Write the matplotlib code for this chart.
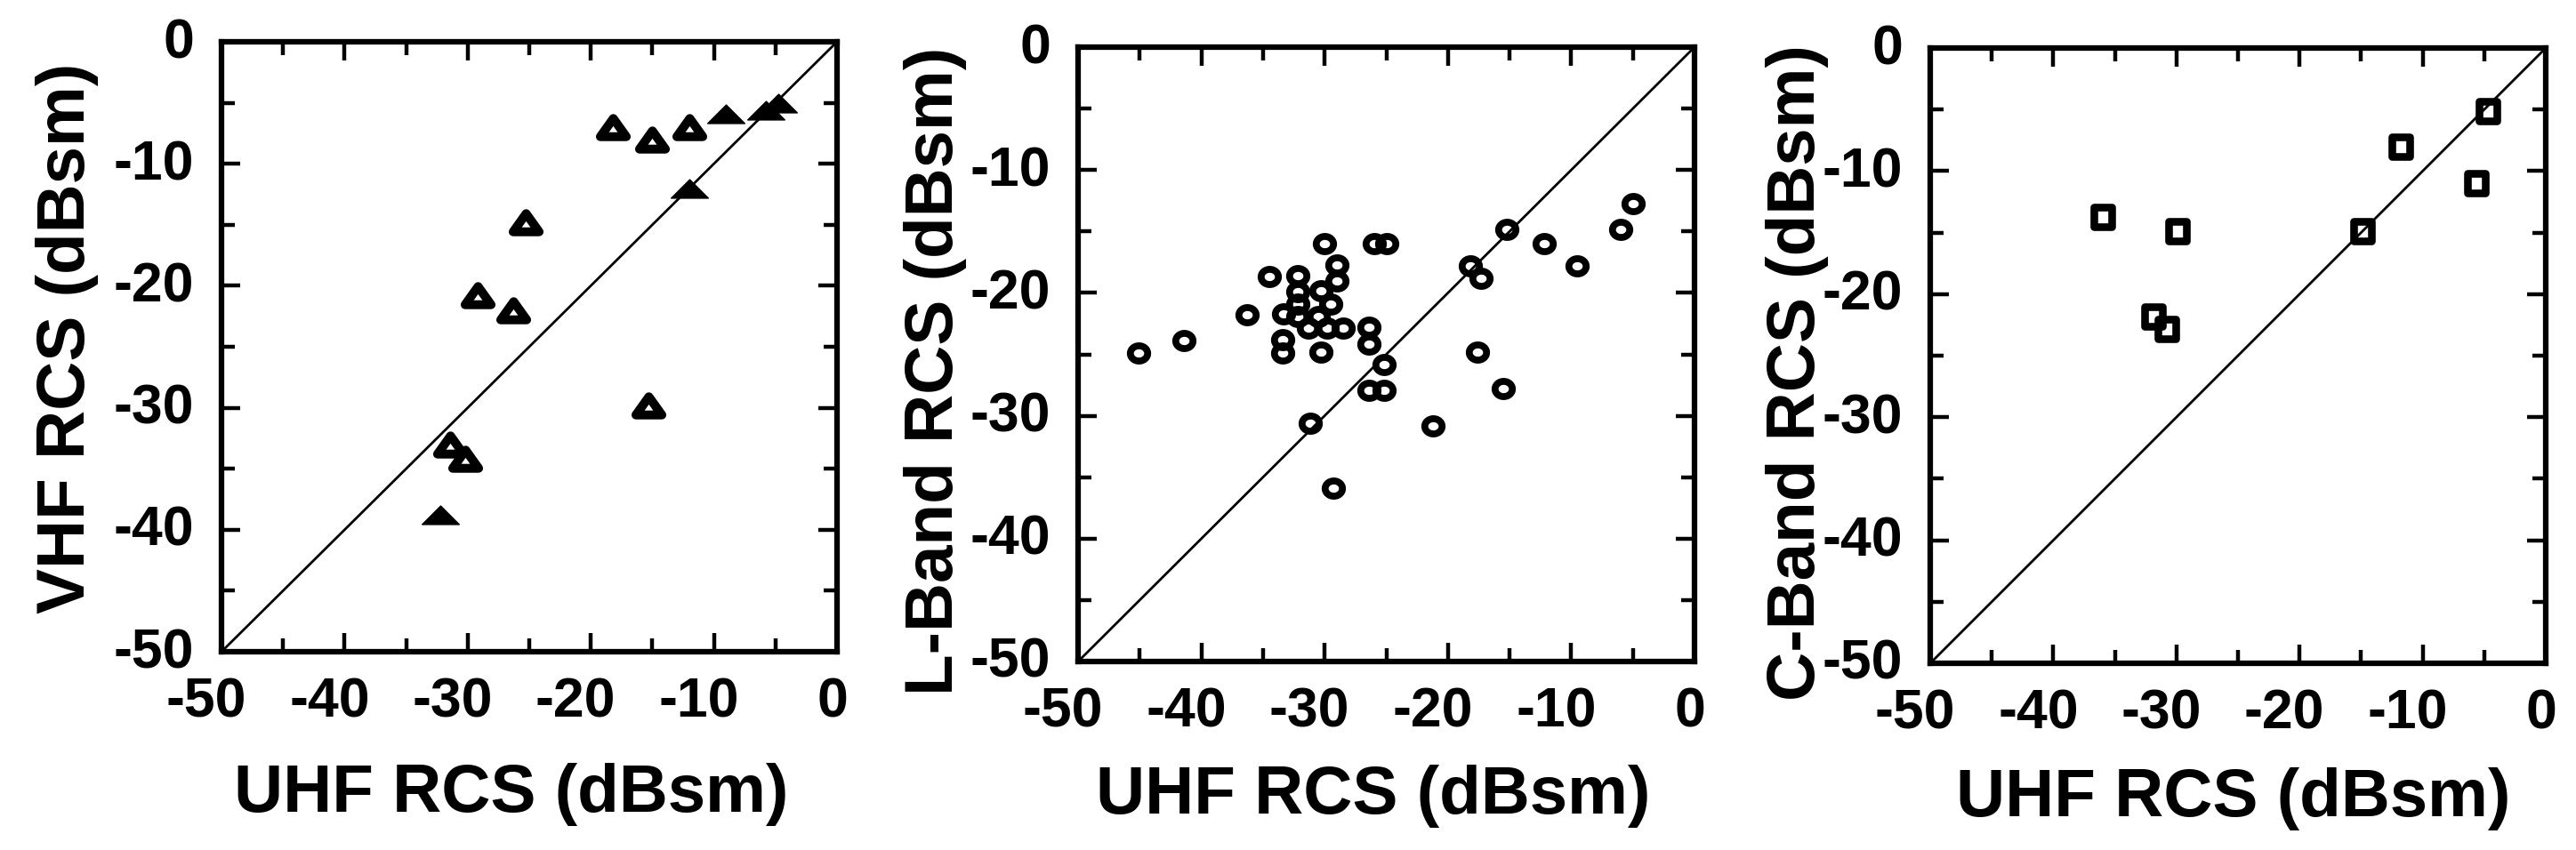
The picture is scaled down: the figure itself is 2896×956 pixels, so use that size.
import numpy as np
import matplotlib
matplotlib.use("Agg")
import matplotlib.pyplot as plt
from matplotlib.path import Path
from matplotlib.markers import MarkerStyle
from matplotlib.ticker import MultipleLocator
from matplotlib.transforms import ScaledTranslation

# ---------------- data ----------------
# Panel 1: VHF vs UHF (open and filled triangles)
vhf_open_uhf = [-18.2, -15.0, -12.0, -25.3, -29.2, -26.3, -15.3, -31.4, -30.2]
vhf_open_vhf = [-7.0, -8.0, -7.0, -14.8, -20.8, -22.0, -29.8, -33.0, -34.2]
vhf_filled_uhf = [-9.0, -5.8, -4.8, -12.0, -32.2]
vhf_filled_vhf = [-5.9, -5.6, -5.0, -12.0, -38.8]

# Panel 2: L-Band vs UHF (circles)
lband_uhf = [-45.1, -41.4, -36.3, -34.5,
             -30.0, -26.0, -25.0,
             -29.0, -29.0,
             -32.2, -32.2, -30.3, -32.2, -29.5,
             -33.3, -32.2, -30.5,
             -31.3, -29.8, -28.5,
             -33.4, -33.4, -30.3,
             -26.4, -26.4, -25.2,
             -26.4, -25.2,
             -31.2, -29.3, -21.2,
             -17.6, -15.5,
             -18.2, -17.3, -15.2,
             -12.2, -9.5, -6.0, -5.0]
lband_l = [-24.9, -23.9, -21.8, -18.7,
           -16.0, -16.0, -16.0,
           -17.7, -19.0,
           -18.6, -19.9, -19.8, -20.9, -20.9,
           -21.7, -21.9, -21.9,
           -22.9, -22.9, -22.9,
           -23.8, -24.9, -24.8,
           -22.8, -24.2, -25.8,
           -27.9, -27.9,
           -30.6, -35.9, -30.8,
           -24.8, -27.8,
           -17.8, -18.8, -14.8,
           -16.0, -17.8, -14.8, -12.7]

# Panel 3: C-Band vs UHF (squares)
cband_uhf = [-4.7, -11.8, -5.6, -36.0, -29.9, -14.9, -31.9, -30.8]
cband_c = [-5.1, -8.0, -11.0, -13.7, -14.9, -14.9, -21.8, -22.8]

# equality line and axis settings
diag = [-50, 0]
axis_min, axis_max = -50, 0
major_step, minor_step = 10, 5
xlabel_text = "UHF RCS (dBsm)"
ylabels = ["VHF RCS (dBsm)", "L-Band RCS (dBsm)", "C-Band RCS (dBsm)"]

# ---------------- style ----------------
plt.rcParams["font.family"] = ["Liberation Sans", "DejaVu Sans"]
plt.rcParams["font.weight"] = "bold"
plt.rcParams["axes.unicode_minus"] = False

W, H = 2896, 956
fig = plt.figure(figsize=(W / 100, H / 100), dpi=100)

def frac(left, right, top, bottom):
    return [left / W, 1 - bottom / H, (right - left) / W, (bottom - top) / H]

rects = [frac(249, 941, 47, 733), frac(1212, 1905, 53, 744), frac(2170, 2862, 54, 746)]
axes = [fig.add_axes(r) for r in rects]

# marker shapes
open_tri = MarkerStyle(Path([(-1, -0.7), (1, -0.7), (0, 0.7), (-1, -0.7)], closed=True), joinstyle="round")
flat_tri = MarkerStyle(Path([(-1, -0.5), (1, -0.5), (0, 0.5), (-1, -0.5)], closed=True))
th = np.linspace(0, 2 * np.pi, 61)
ring = MarkerStyle(Path(np.column_stack([np.cos(th), 0.88 * np.sin(th)]), closed=True))
rect_m = MarkerStyle(Path([(-0.85, -1), (0.85, -1), (0.85, 1), (-0.85, 1), (-0.85, -1)], closed=True))

for ax in axes:
    ax.plot(diag, diag, color="black", lw=2.0, zorder=1)

axes[0].plot(vhf_open_uhf, vhf_open_vhf, linestyle="none", marker=open_tri, ms=21,
             mfc="white", mec="black", mew=7.2, zorder=3)
axes[0].plot(vhf_filled_uhf, vhf_filled_vhf, linestyle="none", marker=flat_tri, ms=30,
             mfc="black", mec="black", mew=1.0, zorder=3)
axes[1].plot(lband_uhf, lband_l, linestyle="none", marker=ring, ms=14,
             mfc="none", mec="black", mew=5.6, zorder=3)
axes[2].plot(cband_uhf, cband_c, linestyle="none", marker=rect_m, ms=16.5,
             mfc="none", mec="black", mew=6.2, zorder=3)

for ax, yl in zip(axes, ylabels):
    ax.set_xlim(axis_min, axis_max)
    ax.set_ylim(axis_min, axis_max)
    ax.xaxis.set_major_locator(MultipleLocator(major_step))
    ax.yaxis.set_major_locator(MultipleLocator(major_step))
    ax.xaxis.set_minor_locator(MultipleLocator(minor_step))
    ax.yaxis.set_minor_locator(MultipleLocator(minor_step))
    ax.tick_params(which="both", direction="in", top=True, right=True, width=3.2, color="black")
    ax.tick_params(which="major", length=15)
    ax.tick_params(which="minor", length=11)
    ax.tick_params(axis="x", which="major", labelsize=45, pad=20)
    ax.tick_params(axis="y", which="major", labelsize=45, pad=22)
    for sp in ax.spines.values():
        sp.set_linewidth(4.5)
    for lab in ax.get_xticklabels():
        dx = -0.17 if lab.get_text().startswith("-") else -0.05
        lab.set_transform(lab.get_transform() + ScaledTranslation(dx, 0, fig.dpi_scale_trans))
        lab.set_fontweight("bold")
    for lab in ax.get_yticklabels():
        lab.set_transform(lab.get_transform() + ScaledTranslation(0, 0.05, fig.dpi_scale_trans))
        lab.set_fontweight("bold")
    ax.set_xlabel(xlabel_text, fontsize=55, fontweight="bold", va="baseline", ha="center")
    ax.set_ylabel(yl, fontsize=55, fontweight="bold", va="baseline", ha="center")

axes[0].xaxis.set_label_coords(0.470, -0.262)
axes[0].yaxis.set_label_coords(-0.2225, 0.514)
axes[1].xaxis.set_label_coords(0.478, -0.247)
axes[1].yaxis.set_label_coords(-0.203, 0.4725)
axes[2].xaxis.set_label_coords(0.493, -0.249)
axes[2].yaxis.set_label_coords(-0.188, 0.4725)

fig.savefig("out.png", dpi=100, facecolor="white")
